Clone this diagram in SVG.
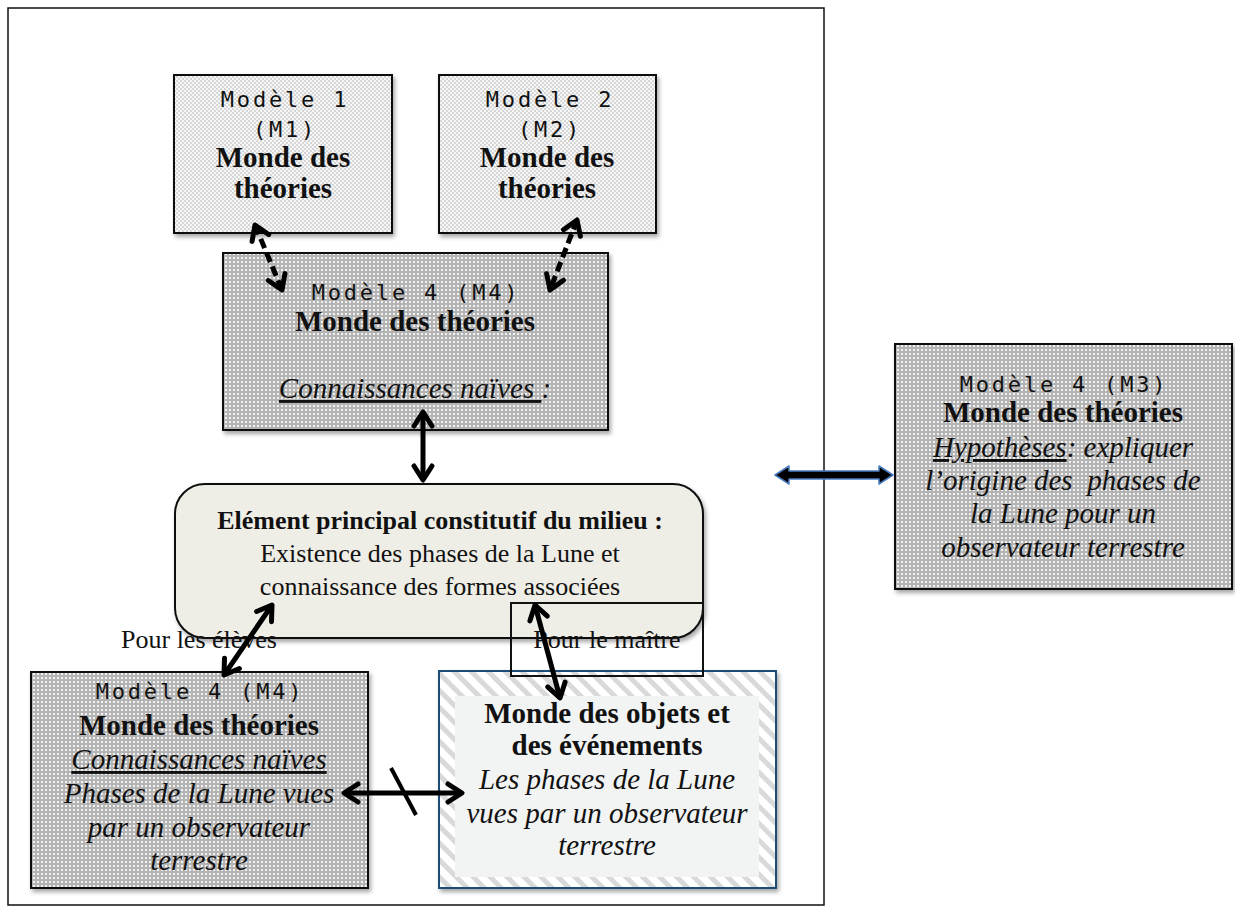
<svg xmlns="http://www.w3.org/2000/svg" width="1235" height="920" viewBox="0 0 1235 920">
<style>
.mono{font-family:"DejaVu Sans Mono",monospace;font-size:22px;letter-spacing:2.8px;fill:#111;text-anchor:middle}
.b{font-family:"Liberation Serif",serif;font-size:29px;font-weight:bold;fill:#111;text-anchor:middle}
.i{font-family:"Liberation Serif",serif;font-size:29px;font-style:italic;fill:#111;text-anchor:middle}
.b26{font-family:"Liberation Serif",serif;font-size:26px;font-weight:bold;fill:#111;text-anchor:middle}
.r26{font-family:"Liberation Serif",serif;font-size:26px;fill:#111;text-anchor:middle}
.u{text-decoration:underline}
.box{stroke:#111;stroke-width:2}
.con{fill:none;stroke:#000;stroke-width:5}
.dash{stroke-dasharray:10 5}
</style>
<defs>
<pattern id="check" width="4" height="4" patternUnits="userSpaceOnUse">
<rect width="4" height="4" fill="#f7f7f7"/>
<rect width="2" height="2" fill="#d6d6d6"/>
<rect x="2" y="2" width="2" height="2" fill="#d6d6d6"/>
</pattern>
<pattern id="dots" width="4" height="4" patternUnits="userSpaceOnUse">
<rect width="4" height="4" fill="#b4b4b4"/>
<rect x="1" y="1" width="2" height="2" fill="#f2f2f2"/>
</pattern>
<pattern id="stripes" width="12" height="12" patternUnits="userSpaceOnUse" patternTransform="rotate(-45)">
<rect width="12" height="12" fill="#ffffff"/>
<rect width="5" height="12" fill="#d9d9d9"/>
</pattern>
<filter id="sh" x="-10%" y="-10%" width="125%" height="130%">
<feDropShadow dx="2" dy="3" stdDeviation="2" flood-color="#000" flood-opacity="0.35"/>
</filter>
<marker id="ah" viewBox="0 0 24 24" refX="19" refY="12" markerWidth="24" markerHeight="24" markerUnits="userSpaceOnUse" orient="auto-start-reverse">
<path d="M5,3 L19,12 L5,21" fill="none" stroke="#000" stroke-width="5" stroke-linecap="round" stroke-linejoin="round"/>
</marker>
</defs>
<rect width="1235" height="920" fill="#fff"/>
<rect id="frame" x="8" y="8" width="816" height="897" fill="none" stroke="#111" stroke-width="1.5"/>

<g id="m1">
<rect class="box" x="174" y="75" width="218" height="158" fill="url(#check)" filter="url(#sh)"/>
<text class="mono" x="285" y="107">Modèle 1</text>
<text class="mono" x="285" y="137">(M1)</text>
<text class="b" x="283" y="167">Monde des</text>
<text class="b" x="283" y="198">théories</text>
</g>

<g id="m2">
<rect class="box" x="439" y="75" width="217" height="158" fill="url(#check)" filter="url(#sh)"/>
<text class="mono" x="550" y="107">Modèle 2</text>
<text class="mono" x="550" y="137">(M2)</text>
<text class="b" x="547" y="167">Monde des</text>
<text class="b" x="547" y="198">théories</text>
</g>

<g id="m4top">
<rect class="box" x="223" y="253" width="385" height="177" fill="url(#dots)" filter="url(#sh)"/>
<text class="mono" x="416" y="300">Modèle 4 (M4)</text>
<text class="b" x="415" y="331">Monde des théories</text>
<text class="i" x="415" y="398"><tspan class="u">Connaissances naïves </tspan>:</text>
</g>

<g id="m3">
<rect class="box" x="895" y="344" width="337" height="245" fill="url(#dots)" filter="url(#sh)"/>
<text class="mono" x="1064" y="392">Modèle 4 (M3)</text>
<text class="b" x="1063" y="422">Monde des théories</text>
<text class="i" x="1063" y="457"><tspan class="u">Hypothèses</tspan>: expliquer</text>
<text class="i" x="1063" y="490" style="white-space:pre">l’origine des  phases de</text>
<text class="i" x="1063" y="523">la Lune pour un</text>
<text class="i" x="1063" y="557">observateur terrestre</text>
</g>

<g id="milieu">
<rect x="175" y="484" width="528" height="154" rx="30" fill="#efeee6" stroke="#111" stroke-width="2" filter="url(#sh)"/>
<text class="b26" x="440" y="529">Elément principal constitutif du milieu :</text>
<text class="r26" x="440" y="562">Existence des phases de la Lune et</text>
<text class="r26" x="440" y="595">connaissance des formes associées</text>
</g>

<g id="m4bottom">
<rect class="box" x="31" y="672" width="337" height="216" fill="url(#dots)" filter="url(#sh)"/>
<text class="mono" x="200" y="699">Modèle 4 (M4)</text>
<text class="b" x="199" y="735">Monde des théories</text>
<text class="i" x="199" y="769"><tspan class="u">Connaissances naïves</tspan></text>
<text class="i" x="199" y="803">Phases de la Lune vues</text>
<text class="i" x="199" y="837">par un observateur</text>
<text class="i" x="199" y="870">terrestre</text>
</g>

<g id="objets">
<rect x="439" y="671" width="337" height="217" fill="url(#stripes)" stroke="#1f4e79" stroke-width="2" filter="url(#sh)"/>
<rect x="455" y="696" width="304" height="181" fill="#f2f3f3"/>
<text class="b" x="607" y="723">Monde des objets et</text>
<text class="b" x="607" y="755">des événements</text>
<text class="i" x="607" y="789">Les phases de la Lune</text>
<text class="i" x="607" y="823">vues par un observateur</text>
<text class="i" x="607" y="855">terrestre</text>
</g>

<g id="label-maitre">
<rect x="511" y="603" width="192" height="73" fill="none" stroke="#111" stroke-width="2"/>
<text class="r26" x="607" y="648">Pour le maître</text>
</g>

<g id="label-eleves">
<text class="r26" x="199" y="648">Pour les élèves</text>
</g>

<g id="connectors">
<line class="con dash" x1="255" y1="225" x2="282" y2="290" marker-start="url(#ah)" marker-end="url(#ah)"/>
<line class="con dash" x1="577" y1="220" x2="550" y2="290" marker-start="url(#ah)" marker-end="url(#ah)"/>
<line class="con" x1="423" y1="412" x2="423" y2="480" marker-start="url(#ah)" marker-end="url(#ah)"/>
<line class="con" x1="272" y1="605" x2="224" y2="675" marker-start="url(#ah)" marker-end="url(#ah)"/>
<line class="con" x1="535" y1="605" x2="560" y2="698" marker-start="url(#ah)" marker-end="url(#ah)"/>
<line class="con" x1="344" y1="793" x2="462" y2="793" marker-start="url(#ah)" marker-end="url(#ah)"/>
<line x1="391" y1="768" x2="416" y2="815" stroke="#000" stroke-width="4"/>
<polygon points="775,475 789,466 789,471 879,471 879,466 893,475 879,484 879,479 789,479 789,484" fill="#000" stroke="#4a7cc0" stroke-width="1.5" stroke-linejoin="round"/>
</g>
</svg>
